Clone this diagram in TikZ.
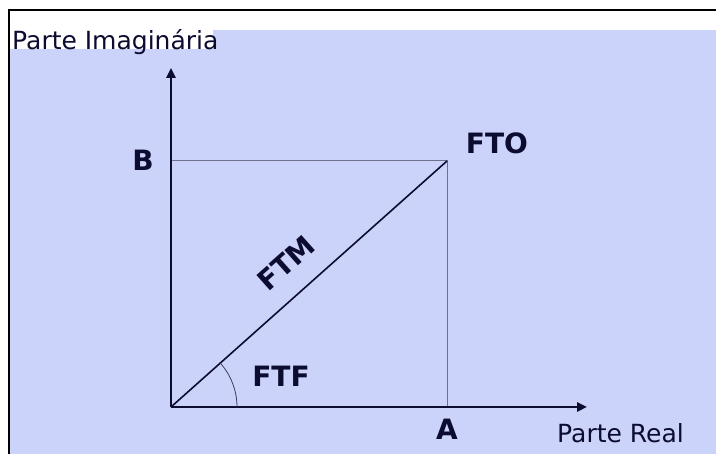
\documentclass[tikz,border=0pt]{standalone}
\usepackage{fontspec}
\setmainfont{DejaVu Sans}
\usetikzlibrary{arrows.meta,calc}
\definecolor{bgblue}{RGB}{204,211,250}
\definecolor{ink}{RGB}{12,12,48}
\definecolor{guide}{RGB}{110,112,140}
\begin{document}
\begin{tikzpicture}[x=1pt,y=1pt,
  lbl/.style={font=\fontsize{28}{30}\selectfont\bfseries, text=ink, inner sep=0pt},
  axlbl/.style={font=\fontsize{25}{27}\selectfont, text=ink, inner sep=0pt},
  axis/.style={draw=ink, line width=2.4pt, -{Triangle[length=10pt,width=9pt]}},
  guideline/.style={draw=guide, line width=1pt},
  vec/.style={draw=ink, line width=1.6pt},
  anglearc/.style={draw=ink!80, line width=0.8pt}]
\useasboundingbox (0,0) rectangle (716,454);
\fill[white] (0,0) rectangle (716,454);
\fill[bgblue] (10,0) rectangle (716,424);
\fill[white] (10,405) rectangle (213,424);
\draw[black, line width=2.5pt] (9,0) -- (9,444) -- (716,444);
% coordinates
\coordinate (O) at (171,47);
\coordinate (Ytip) at (171,386);
\coordinate (Xtip) at (587,47);
\coordinate (P) at (447,293);
\coordinate (Bp) at (171,293);
\coordinate (Ap) at (447,47);
\coordinate (Arc0) at ($(O)+(66,0)$);
% guides
\draw[guideline] (Bp) -- (P) -- (Ap);
% axes
\draw[axis] (O) -- (Ytip);
\draw[axis] (O) -- (Xtip);
% vector
\draw[vec] (O) -- (P);
% angle arc
\draw[anglearc] (Arc0) arc[start angle=0, end angle=41.7, radius=66pt];
% labels
\node[lbl] (B) at (143,294) {B};
\node[lbl] (A) at (447,25) {A};
\node[lbl] (FTO) at (497,311) {FTO};
\node[lbl, rotate=41.7] (FTM) at (286,191) {FTM};
\node[lbl] (FTF) at (281,78) {FTF};
\node[axlbl, anchor=base west] (re) at (557,11) {Parte Real};
\node[axlbl, anchor=base west] (im) at (12,404) {Parte Imaginária};
\end{tikzpicture}
\end{document}
